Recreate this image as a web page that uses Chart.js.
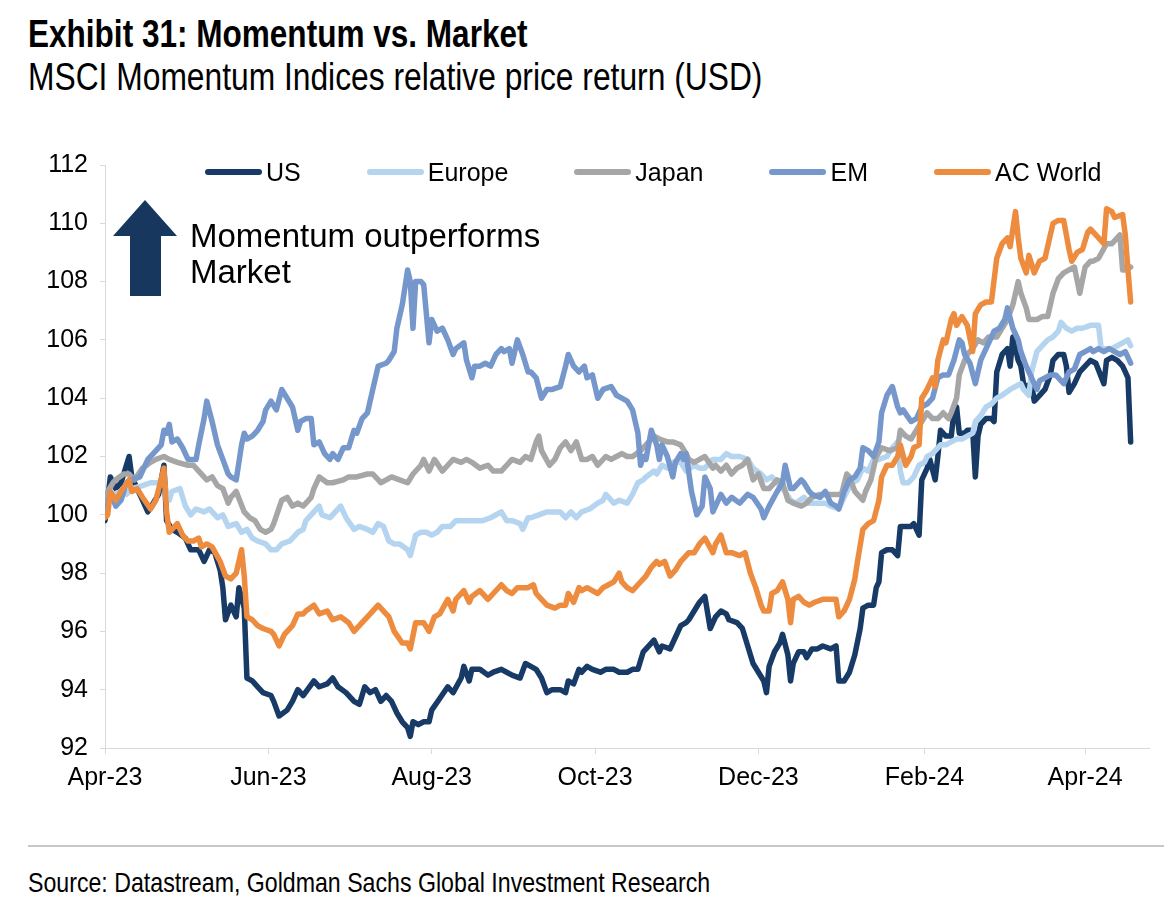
<!DOCTYPE html>
<html><head><meta charset="utf-8">
<script src="https://cdn.jsdelivr.net/npm/chart.js@4.4.1/dist/chart.umd.min.js"></script>
<style>
html,body{margin:0;padding:0;background:#fff;}
body{width:1164px;height:920px;position:relative;overflow:hidden;font-family:"Liberation Sans",Arial,sans-serif;color:#000;}
.narrow{font-family:"Liberation Sans",Arial,sans-serif;transform-origin:0 0;transform:scaleX(0.83);}
#title{position:absolute;left:28px;top:15px;font-weight:bold;font-size:38px;line-height:38px;white-space:nowrap;}
#subtitle{position:absolute;left:28px;top:58px;font-size:38px;line-height:38px;white-space:nowrap;transform:scaleX(0.836);}
#wrap{position:absolute;left:0;top:0;width:1164px;height:830px;}
#legend{position:absolute;left:205px;top:159px;height:26px;display:flex;gap:66px;align-items:center;}
.item{display:flex;align-items:center;font-size:25px;line-height:26px;white-space:nowrap;}
.swatch{width:57px;height:6px;border-radius:3px;margin-right:4px;}
#note{position:absolute;left:190px;top:218px;font-size:33px;line-height:36px;white-space:nowrap;}
#arrow{position:absolute;left:110px;top:198px;}
#rule{position:absolute;left:28px;right:0;top:845px;height:2px;background:#c8c8c8;}
#source{position:absolute;left:28px;top:869px;font-size:28px;line-height:28px;white-space:nowrap;transform:scaleX(0.827);}
</style>
</head><body>
<div id="title" class="narrow">Exhibit 31: Momentum vs. Market</div>
<div id="subtitle" class="narrow">MSCI Momentum Indices relative price return (USD)</div>
<div id="wrap"><canvas id="c" width="1164" height="830"></canvas></div>
<div id="legend"></div>
<svg id="arrow" width="70" height="100"><polygon points="35,2 67,38 51,38 51,98 20,98 20,38 3,38" fill="#17375e"/></svg>
<div id="note">Momentum outperforms<br>Market</div>
<div id="rule"></div>
<div id="source" class="narrow">Source: Datastream, Goldman Sachs Global Investment Research</div>
<script>
// x = days since 1 Apr 2023
const seriesNames = ['US','Europe','Japan','EM','AC World'];
const seriesColors = ['#173b66','#b5d4ef','#a6a6a6','#7597cb','#ed8b3e'];
const tickDays = [0,61,122,183,244,306,366];
const tickLabels = ['Apr-23','Jun-23','Aug-23','Oct-23','Dec-23','Feb-24','Apr-24'];

const usData = [[0,99.8],[2,101.3],[4,100.9],[6,101.1],[9,102.0],[10,101.3],[12,100.9],[14,100.5],[16,100.1],[18,100.4],[20,100.7],[22,101.7],[23,99.8],[25,99.5],[27,99.4],[30,99.2],[32,98.8],[35,98.8],[37,98.4],[39,98.8],[41,98.7],[43,98.1],[44,97.5],[45,96.4],[47,96.9],[49,96.5],[50,97.5],[52,96.8],[53,94.4],[55,94.3],[57,94.1],[59,93.9],[62,93.8],[63,93.6],[65,93.1],[68,93.3],[70,93.6],[72,94.0],[74,93.8],[78,94.3],[80,94.1],[83,94.2],[85,94.4],[87,94.1],[90,93.9],[93,93.6],[95,93.5],[97,94.1],[99,93.9],[101,94.0],[103,93.6],[105,93.8],[107,93.6],[109,93.2],[111,92.9],[113,92.7],[114,92.4],[115,92.9],[117,92.8],[119,92.9],[121,92.9],[122,93.3],[125,93.7],[128,94.1],[130,93.9],[133,94.4],[134,94.8],[136,94.3],[137,94.7],[140,94.7],[143,94.5],[145,94.6],[148,94.7],[150,94.6],[152,94.5],[155,94.4],[157,94.9],[159,94.8],[161,94.7],[163,94.4],[165,93.9],[167,94.0],[170,94.0],[172,93.9],[173,94.3],[175,94.2],[177,94.7],[178,94.6],[180,94.8],[182,94.7],[185,94.6],[187,94.7],[190,94.7],[192,94.6],[195,94.6],[197,94.7],[199,94.7],[201,95.3],[204,95.6],[205,95.7],[207,95.3],[208,95.5],[211,95.4],[213,95.8],[215,96.2],[217,96.3],[218,96.4],[220,96.7],[222,97.0],[224,97.2],[226,96.1],[228,96.5],[230,96.7],[232,96.6],[233,96.4],[236,96.3],[238,96.1],[240,95.5],[242,94.9],[244,94.6],[246,94.3],[247,93.9],[248,94.8],[250,95.3],[252,95.6],[253,95.9],[255,95.2],[256,94.3],[257,94.9],[259,95.3],[261,95.3],[262,95.1],[264,95.4],[266,95.4],[268,95.5],[271,95.4],[273,95.5],[274,94.3],[276,94.3],[278,94.6],[280,95.2],[282,96.1],[283,96.8],[285,96.9],[287,96.9],[288,97.5],[289,97.7],[290,98.7],[292,98.8],[294,98.8],[296,98.6],[297,99.6],[299,99.6],[301,99.6],[302,99.7],[304,99.3],[305,101.2],[307,101.6],[308,101.9],[310,101.2],[311,102.0],[312,102.9],[314,102.7],[316,102.7],[317,103.5],[318,103.7],[319,102.8],[321,102.8],[322,102.9],[324,102.9],[325,101.3],[326,102.7],[327,103.1],[329,103.3],[331,103.3],[332,103.2],[333,104.9],[335,105.5],[337,105.7],[338,105.1],[339,106.1],[341,105.3],[342,105.1],[343,104.5],[344,104.4],[346,104.5],[347,103.9],[349,104.1],[351,104.3],[353,104.8],[354,105.3],[356,105.5],[358,105.5],[359,105.1],[360,104.2],[362,104.5],[364,104.9],[366,105.1],[368,105.3],[370,105.2],[373,104.5],[374,105.3],[376,105.4],[378,105.3],[380,105.1],[381,104.9],[382,104.7],[383,102.5]];

const europeData = [[0,100.0],[1,100.5],[3,100.7],[6,100.8],[8,100.7],[10,100.9],[14,101.0],[17,101.1],[19,101.1],[22,101.1],[24,100.5],[25,100.8],[28,100.9],[30,100.3],[32,100.0],[34,100.2],[37,100.1],[39,100.2],[42,99.9],[44,100.0],[46,99.6],[49,99.7],[51,99.4],[53,99.5],[55,99.2],[57,99.1],[60,99.0],[62,98.8],[64,98.8],[66,99.0],[69,99.1],[72,99.4],[74,99.5],[75,99.8],[78,100.1],[80,100.3],[81,100.0],[84,99.9],[86,100.1],[88,100.3],[90,99.9],[93,99.5],[95,99.6],[98,99.5],[100,99.4],[102,99.7],[104,99.6],[106,99.1],[108,99.0],[110,99.0],[113,98.8],[114,98.6],[116,99.3],[118,99.4],[120,99.4],[122,99.3],[124,99.4],[126,99.6],[129,99.6],[131,99.8],[134,99.8],[136,99.8],[139,99.8],[141,99.8],[144,99.9],[148,100.1],[150,99.8],[152,99.8],[155,99.7],[156,99.5],[158,99.9],[159,99.9],[162,100.0],[165,100.1],[167,100.1],[170,100.1],[172,99.9],[174,100.1],[176,99.9],[178,100.1],[181,100.2],[184,100.4],[186,100.5],[187,100.7],[190,100.4],[192,100.5],[195,100.4],[197,100.7],[199,101.1],[201,101.2],[202,101.3],[205,101.5],[206,101.4],[208,101.7],[210,101.6],[212,101.8],[215,101.8],[217,101.5],[220,101.7],[222,101.6],[224,101.6],[227,101.9],[230,101.9],[232,102.1],[234,102.0],[237,102.0],[240,101.9],[242,101.6],[245,101.4],[247,101.2],[249,101.3],[251,101.1],[254,100.8],[256,100.5],[258,100.4],[261,100.6],[263,100.4],[266,100.4],[269,100.4],[271,100.3],[274,100.2],[277,100.8],[279,101.1],[281,101.2],[283,101.6],[285,101.5],[287,101.9],[289,101.9],[292,102.0],[294,102.3],[296,102.5],[297,101.5],[298,101.1],[300,101.1],[302,101.3],[304,101.7],[306,101.8],[307,102.0],[309,102.1],[312,102.4],[314,102.4],[316,102.5],[318,102.6],[320,102.6],[322,102.7],[324,102.8],[325,103.2],[327,103.4],[329,103.7],[331,103.8],[333,104.0],[335,104.1],[338,104.3],[340,104.4],[342,104.5],[343,104.3],[345,104.1],[346,104.9],[348,105.6],[350,105.8],[352,106.0],[354,106.1],[356,106.3],[357,106.6],[359,106.4],[361,106.3],[363,106.4],[365,106.4],[368,106.5],[369,106.5],[371,106.5],[372,105.7],[374,105.7],[376,105.7],[378,105.8],[380,105.9],[382,106.0],[383,105.8]];

const japanData = [[0,100.2],[1,100.8],[3,101.1],[4,101.2],[7,101.4],[9,101.4],[11,101.2],[14,101.6],[17,101.8],[19,101.9],[22,102.0],[24,101.9],[27,101.8],[31,101.7],[33,101.7],[35,101.5],[38,101.2],[40,101.3],[42,101.0],[44,100.9],[46,100.4],[47,100.6],[49,100.8],[52,100.1],[54,99.9],[56,99.8],[58,99.5],[60,99.4],[62,99.5],[63,99.7],[66,100.5],[68,100.6],[70,100.3],[72,100.4],[74,100.3],[77,100.6],[78,100.9],[80,101.3],[83,101.1],[85,101.1],[89,101.2],[91,101.3],[94,101.3],[98,101.4],[100,101.4],[103,101.1],[105,101.2],[107,101.3],[110,101.2],[113,101.1],[115,101.4],[118,101.7],[119,101.9],[121,101.5],[123,101.9],[126,101.5],[128,101.7],[130,101.9],[133,101.8],[135,101.9],[137,101.8],[140,101.6],[143,101.7],[145,101.5],[148,101.5],[150,101.7],[152,101.9],[155,101.8],[157,102.0],[159,101.9],[161,102.5],[162,102.7],[163,102.2],[166,101.7],[168,101.9],[170,102.3],[172,102.5],[174,102.2],[176,102.5],[178,101.9],[180,101.9],[182,102.0],[184,101.7],[187,102.0],[189,101.9],[191,102.0],[193,102.1],[195,102.0],[197,102.0],[200,102.2],[202,102.4],[205,102.7],[207,102.6],[210,102.5],[212,102.5],[215,102.4],[217,102.1],[218,101.9],[220,101.8],[222,101.9],[224,102.0],[227,101.6],[228,101.7],[230,101.5],[232,101.7],[234,101.4],[236,101.6],[238,101.7],[240,101.9],[242,101.2],[244,101.4],[246,100.9],[248,100.9],[251,101.2],[253,101.1],[255,100.5],[257,100.4],[260,100.3],[262,100.4],[264,100.6],[267,100.7],[270,100.7],[272,100.7],[275,100.7],[277,101.4],[278,101.3],[280,100.8],[282,100.6],[283,100.5],[284,100.8],[286,101.2],[288,102.0],[290,102.3],[293,102.2],[296,102.3],[297,102.9],[299,102.7],[301,102.6],[303,102.9],[305,103.2],[307,103.5],[309,103.3],[311,103.3],[313,103.5],[315,103.3],[316,103.5],[318,104.0],[319,104.8],[321,105.3],[322,105.5],[324,105.7],[326,106.0],[328,105.9],[330,106.1],[333,106.1],[335,106.4],[337,106.7],[339,107.2],[341,108.0],[342,107.6],[344,107.1],[345,106.7],[347,106.7],[348,106.7],[350,106.8],[352,106.8],[354,107.6],[356,108.1],[358,108.3],[360,108.4],[362,108.5],[364,107.6],[366,108.5],[368,108.7],[369,108.7],[371,108.8],[374,109.3],[376,109.3],[378,109.5],[379,109.6],[380,108.4],[381,108.4],[383,108.5]];

const emData = [[0,100.0],[1,100.3],[2,100.8],[4,100.3],[6,100.5],[8,101.1],[10,101.2],[13,101.3],[16,101.9],[18,102.1],[21,102.4],[22,102.9],[23,102.8],[24,103.1],[25,102.5],[27,102.6],[29,102.3],[31,101.9],[34,101.9],[35,102.4],[37,103.3],[38,103.9],[40,103.2],[42,102.4],[44,101.9],[46,101.4],[47,101.3],[49,101.2],[51,102.4],[52,102.8],[53,102.6],[55,102.7],[57,102.9],[59,103.2],[60,103.6],[62,103.9],[64,103.6],[66,104.3],[68,104.0],[70,103.7],[72,102.9],[73,103.2],[75,103.3],[77,103.3],[78,102.4],[80,102.5],[82,102.1],[84,101.9],[85,102.1],[87,101.9],[89,102.3],[91,102.3],[93,102.9],[94,102.8],[96,103.3],[98,103.5],[100,104.3],[102,105.1],[105,105.2],[106,105.3],[108,105.6],[109,106.4],[111,107.2],[113,108.4],[114,108.0],[115,106.4],[116,108.0],[118,108.0],[119,107.9],[121,105.9],[122,106.7],[124,106.3],[126,106.4],[128,106.0],[130,105.5],[131,105.7],[134,105.9],[135,105.3],[137,104.7],[138,105.1],[140,105.1],[142,105.2],[144,105.1],[146,105.5],[148,105.7],[149,105.6],[151,105.7],[152,105.2],[154,106.0],[156,105.5],[158,104.9],[159,104.9],[161,104.7],[163,104.0],[165,104.3],[167,104.3],[170,104.4],[172,105.1],[173,105.5],[175,105.1],[177,104.9],[179,105.1],[180,104.7],[182,104.8],[184,104.0],[186,104.3],[189,104.4],[191,104.1],[193,104.0],[195,103.9],[197,103.6],[199,102.8],[200,101.7],[201,102.0],[202,101.9],[204,102.9],[206,102.4],[207,101.9],[208,102.4],[210,102.0],[212,101.3],[213,101.8],[215,102.1],[216,101.9],[217,102.1],[219,100.8],[221,100.0],[223,100.3],[224,101.3],[226,100.9],[227,100.1],[229,100.5],[230,100.7],[232,100.4],[234,100.6],[237,100.4],[240,100.7],[242,100.6],[245,100.2],[246,99.9],[248,100.3],[251,100.8],[253,101.1],[254,101.7],[256,100.9],[257,100.9],[260,101.2],[261,101.1],[263,100.8],[264,100.7],[267,100.6],[269,100.8],[271,100.4],[273,100.3],[274,100.2],[276,100.8],[278,101.2],[280,101.3],[282,101.6],[283,102.3],[285,102.2],[287,102.0],[289,102.5],[290,103.5],[292,104.1],[294,104.4],[296,103.7],[297,103.5],[298,103.6],[301,103.2],[303,103.3],[305,103.7],[307,103.8],[309,104.0],[311,104.7],[313,104.8],[315,104.8],[317,105.3],[319,106.0],[320,105.9],[321,105.5],[323,105.2],[325,104.5],[327,105.3],[328,105.5],[330,105.9],[332,106.3],[334,106.4],[336,106.7],[337,107.1],[339,106.4],[341,106.0],[342,105.6],[344,105.1],[346,104.7],[348,104.3],[349,104.6],[351,104.7],[353,104.8],[355,104.8],[357,104.6],[358,104.5],[360,104.9],[362,105.0],[364,105.5],[366,105.6],[368,105.7],[369,105.6],[371,105.7],[373,105.6],[375,105.7],[377,105.6],[379,105.5],[381,105.6],[383,105.2]];

const acwData = [[0,99.9],[1,100.0],[2,100.8],[4,100.5],[6,100.8],[9,101.2],[10,100.8],[12,100.9],[14,100.6],[17,100.2],[19,100.5],[22,101.6],[23,100.1],[24,99.4],[27,99.7],[29,99.3],[31,99.1],[33,99.1],[35,99.2],[36,98.9],[38,99.0],[40,98.9],[43,98.4],[45,97.9],[47,97.8],[49,98.0],[51,98.8],[52,97.9],[53,96.5],[55,96.4],[57,96.2],[59,96.1],[62,96.0],[63,95.9],[65,95.5],[67,95.9],[70,96.2],[72,96.6],[74,96.6],[75,96.7],[78,96.9],[80,96.6],[83,96.7],[85,96.4],[88,96.5],[91,96.3],[93,96.0],[96,96.3],[98,96.5],[102,96.9],[103,96.8],[106,96.5],[108,96.0],[111,95.6],[113,95.6],[114,95.4],[116,96.3],[118,96.3],[119,96.3],[121,96.0],[123,96.5],[125,96.6],[128,97.1],[130,96.7],[131,97.1],[134,97.4],[136,97.0],[137,97.2],[140,97.4],[143,97.1],[145,97.3],[148,97.6],[150,97.4],[152,97.3],[154,97.5],[158,97.5],[160,97.6],[161,97.3],[163,97.1],[165,96.9],[168,96.8],[170,96.9],[172,96.9],[173,97.3],[175,97.0],[177,97.5],[178,97.4],[180,97.5],[182,97.4],[184,97.3],[186,97.5],[188,97.6],[190,97.7],[192,98.0],[193,97.7],[195,97.5],[197,97.4],[199,97.6],[202,97.9],[204,98.2],[206,98.4],[207,98.3],[209,98.4],[211,97.9],[213,98.1],[215,98.4],[216,98.5],[218,98.7],[220,98.7],[222,99.0],[224,99.2],[227,98.7],[228,99.0],[230,99.3],[232,98.7],[234,98.7],[237,98.6],[239,98.7],[241,98.0],[243,97.5],[245,96.9],[246,96.7],[248,96.7],[249,97.3],[251,97.4],[253,97.7],[255,97.1],[256,96.3],[257,97.1],[259,97.2],[261,97.0],[263,96.9],[265,97.0],[268,97.1],[270,97.1],[273,97.1],[274,96.5],[276,96.7],[278,97.1],[280,97.8],[281,98.4],[283,99.5],[285,99.7],[287,99.8],[289,100.5],[290,101.3],[292,101.7],[294,101.7],[296,102.0],[297,102.4],[299,101.7],[301,102.0],[302,102.3],[304,102.4],[305,104.0],[307,104.3],[309,104.7],[310,104.4],[311,105.3],[313,106.0],[314,105.9],[316,106.7],[317,106.9],[318,106.5],[320,106.8],[322,106.5],[324,105.6],[325,106.9],[327,107.2],[329,107.3],[331,107.3],[333,108.8],[335,109.3],[337,109.5],[338,109.2],[340,110.4],[341,109.5],[342,108.8],[344,108.3],[345,108.9],[347,108.3],[349,108.7],[351,108.8],[354,110.0],[356,110.1],[358,110.1],[360,109.1],[361,108.7],[363,109.0],[365,109.1],[367,109.7],[368,109.8],[370,109.6],[373,109.3],[374,110.5],[376,110.4],[377,110.2],[380,110.3],[381,109.6],[382,108.4],[383,107.3]];

const seriesData = [usData, europeData, japanData, emData, acwData];

// HTML legend built from the series names / colours
const lg = document.getElementById('legend');
seriesNames.forEach((n,i)=>{
  const it = document.createElement('div'); it.className='item';
  const sw = document.createElement('span'); sw.className='swatch'; sw.style.background=seriesColors[i];
  const tx = document.createElement('span'); tx.textContent=n;
  it.appendChild(sw); it.appendChild(tx); lg.appendChild(it);
});

const axisFont = {family:'"Liberation Sans", Arial, sans-serif', size:25};
new Chart(document.getElementById('c'), {
  type:'line',
  data:{
    datasets: seriesNames.map((n,i)=>({
      label:n,
      data: seriesData[i].map(([x,y])=>({x,y})),
      borderColor: seriesColors[i],
      backgroundColor: seriesColors[i],
      borderWidth: 5.5,
      pointRadius: 0,
      tension: 0,
      fill:false,
      borderJoinStyle:'round',
      borderCapStyle:'round',
      order: seriesNames.length - i
    }))
  },
  options:{
    responsive:false,
    animation:false,
    layout:{padding:{left:0,right:14.6,top:165,bottom:32}},
    plugins:{legend:{display:false},tooltip:{enabled:false},title:{display:false}},
    scales:{
      x:{
        type:'linear', min:0, max:390,
        afterFit(s){ s.height = 50; },
        afterBuildTicks(s){ s.ticks = tickDays.map(v=>({value:v})); },
        ticks:{ callback:(v)=>{const k=tickDays.indexOf(v); return k>=0?tickLabels[k]:'';}, font:axisFont, color:'#000', maxRotation:0, autoSkip:false, padding:9 },
        grid:{ drawOnChartArea:false, drawTicks:true, tickLength:6, color:'#d9d9d9', lineWidth:1 },
        border:{ display:true, color:'#d9d9d9', width:1 }
      },
      y:{
        min:92, max:112,
        afterFit(s){ s.width = 105; },
        ticks:{ stepSize:2, font:axisFont, color:'#000', padding:12 },
        grid:{ drawOnChartArea:false, drawTicks:true, tickLength:5, color:'#d9d9d9', lineWidth:1 },
        border:{ display:true, color:'#d9d9d9', width:1 }
      }
    }
  }
});
</script>
</body></html>
